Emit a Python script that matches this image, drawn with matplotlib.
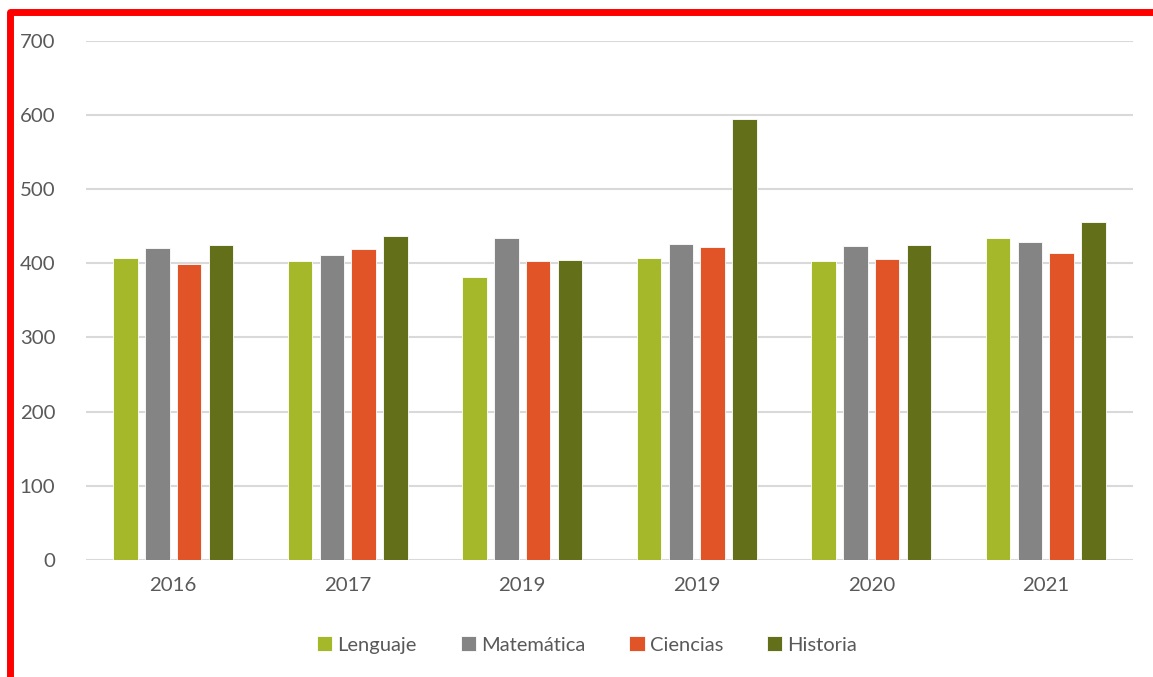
import numpy as np
import matplotlib
matplotlib.use('Agg')
import matplotlib.pyplot as plt
from matplotlib.lines import Line2D

years = ['2016', '2017', '2019', '2019', '2020', '2021']
lenguaje = [407, 403.5, 382, 407, 403.5, 434.5]
matematica = [421, 411.5, 434, 426.5, 423.5, 428.5]
ciencias = [398.5, 419, 403.5, 422.5, 405.5, 414]
historia = [425, 437, 404.5, 594.5, 425, 455]

series = [('Lenguaje', lenguaje, '#A5B82A'),
          ('Matemática', matematica, '#848484'),
          ('Ciencias', ciencias, '#E05428'),
          ('Historia', historia, '#646F19')]

plt.rcParams['font.family'] = ['Lato', 'DejaVu Sans']

W, H = 1153, 677
fig = plt.figure(figsize=(W / 100, H / 100), dpi=100)
ax = fig.add_axes([86 / W, 1 - 560 / H, (1133 - 86) / W, (560 - 40.7) / H])

x = np.arange(len(years))
pitch = 0.182
width = 0.14
for i, (name, vals, col) in enumerate(series):
    ax.bar(x + (i - 1.5) * pitch, vals, width, color=col, label=name,
           edgecolor='white', linewidth=0.6, zorder=3)

ax.set_xlim(-0.5, len(years) - 0.5)
ax.set_ylim(0, 700)
ax.set_yticks(range(0, 701, 100))
ax.set_xticks(x)
ax.set_xticklabels(years)
ax.grid(axis='y', color='#D9D9D9', linewidth=1.5, zorder=0)
for s in ax.spines.values():
    s.set_visible(False)
ax.tick_params(axis='both', length=0, labelsize=14.7, colors='#595959')
ax.tick_params(axis='y', pad=22)
ax.tick_params(axis='x', pad=12)

ax.legend(loc='center', bbox_to_anchor=(587 / W, 1 - 645 / H),
          bbox_transform=fig.transFigure, ncol=4, frameon=False,
          fontsize=14.5, labelcolor='#595959', handlelength=0.75,
          handleheight=0.75, handletextpad=0.25, columnspacing=2.2)

# red frame on top and left
fig.add_artist(Line2D([10 / W, 10 / W, 1.0], [0.0, 1 - 11.5 / H, 1 - 11.5 / H],
                      transform=fig.transFigure, color='#FF0000',
                      linewidth=5, solid_joinstyle='round'))

fig.savefig('out.png', dpi=100)
